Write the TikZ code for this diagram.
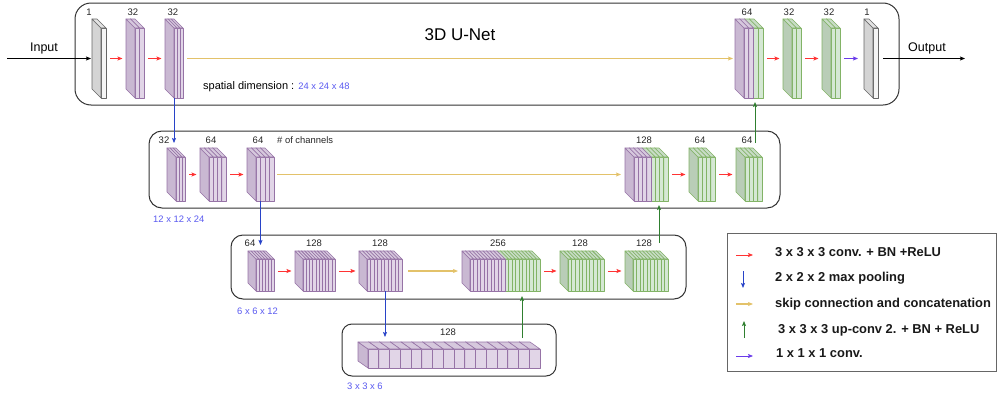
\documentclass[tikz,border=0pt]{standalone}
\usepackage{fontspec}
\setmainfont{Liberation Sans}
\usetikzlibrary{arrows.meta}
\definecolor{purF}{HTML}{E1D5E7}
\definecolor{purL}{HTML}{C9B8D2}
\definecolor{purT}{HTML}{D6C8DD}
\definecolor{purS}{HTML}{9673A6}
\definecolor{grnF}{HTML}{D5E8D4}
\definecolor{grnL}{HTML}{B9CDB7}
\definecolor{grnT}{HTML}{C8DCC6}
\definecolor{grnS}{HTML}{82B366}
\definecolor{gryF}{HTML}{F5F5F5}
\definecolor{gryL}{HTML}{D4D4D4}
\definecolor{gryT}{HTML}{E2E2E2}
\definecolor{gryS}{HTML}{666666}
\definecolor{convred}{HTML}{FF3333}
\definecolor{skipy}{HTML}{E3C26A}
\definecolor{poolb}{HTML}{2843C8}
\definecolor{upg}{HTML}{2F7F2F}
\definecolor{onev}{HTML}{6A3BEA}
\definecolor{dimc}{HTML}{5A5AF0}
\newcommand{\ublock}[9]{%
  \pgfmathtruncatemacro\ubN{#6+#8}%
  \pgfmathtruncatemacro\ubLast{\ubN-1}%
  \pgfmathsetmacro\ubT{(#3-#2-\dX)/\ubN}%
  \foreach \i in {\ubLast,...,0}{%
    \ifnum\i<#6\relax\def\cs{#7}\else\def\cs{#9}\fi
    \pgfmathsetmacro\xs{#2+\i*\ubT}%
    \pgfmathsetmacro\xa{\xs+\dX}%
    \pgfmathsetmacro\xb{\xs+\ubT}%
    \pgfmathsetmacro\xc{\xs+\ubT+\dX}%
    \pgfmathsetmacro\ya{#4+\dY}%
    \pgfmathsetmacro\yb{#5-\dY}%
    \filldraw[slab,fill=\cs F,draw=\cs S] (\xa,\ya) rectangle (\xc,#5);
    \filldraw[slab,fill=\cs L,draw=\cs S] (\xs,#4) -- (\xa,\ya) -- (\xa,#5) -- (\xs,\yb) -- cycle;
    \filldraw[slab,fill=\cs T,draw=\cs S] (\xs,#4) -- (\xb,#4) -- (\xc,\ya) -- (\xa,\ya) -- cycle;
  }%
  \pgfmathsetmacro\ubW{#3-#2}\pgfmathsetmacro\ubH{#5-#4}%
  \node[bbox,minimum width=\ubW pt,minimum height=\ubH pt] (#1) at ({(#2+#3)/2},{(#4+#5)/2}) {};
}
\begin{document}
\begin{tikzpicture}[x=1pt,y=-1pt,
  slab/.style={line width=0.6pt,line join=round},
  bbox/.style={draw=none,inner sep=0pt,outer sep=0pt,rectangle},
  frame/.style={draw=black!80,line width=1pt},
  legbox/.style={draw=black!60,line width=0.8pt},
  lbl/.style={font=\fontsize{9.5}{11}\selectfont,text=black!85,inner sep=0pt},
  dim/.style={font=\fontsize{9.4}{11}\selectfont,text=dimc,inner sep=0pt,anchor=west},
  legt/.style={font=\bfseries\fontsize{12.9}{15}\selectfont,text=black!90,inner sep=0pt,anchor=west},
  arr/.style={-{Stealth[length=5pt,width=4pt,inset=1pt]},line width=0.8pt},
  conv/.style={arr,draw=convred},
  skipc/.style={arr,draw=skipy,line width=1.1pt},
  pool/.style={arr,draw=poolb},
  upc/.style={arr,draw=upg},
  onec/.style={arr,draw=onev},
  inout/.style={arr,draw=black},
  gap/.style={shorten <=4pt,shorten >=3.5pt}]
\useasboundingbox (0,0) rectangle (997,399);
% frames
\draw[frame,rounded corners=16pt] (75,3) rectangle (899,105);
\draw[frame,rounded corners=13pt] (149,131) rectangle (780,208);
\draw[frame,rounded corners=12pt] (231,235) rectangle (686,299);
\draw[frame,rounded corners=10pt] (342,324) rectangle (556,376);
\draw[legbox] (727,233) rectangle (996,371);
% level 1
\def\dX{9}\def\dY{9}
\ublock{g1}{92}{106}{19}{98}{1}{gry}{0}{grn}
\ublock{p1}{126}{144}{19}{98}{2}{pur}{0}{grn}
\ublock{p2}{165}{183}{19}{98}{3}{pur}{0}{grn}
\ublock{c1}{735}{763}{19}{98}{2}{pur}{2}{grn}
\ublock{q1}{783}{801}{19}{98}{2}{grn}{0}{grn}
\ublock{q2}{822}{840}{19}{98}{2}{grn}{0}{grn}
\ublock{g2}{864}{878}{19}{98}{1}{gry}{0}{grn}
% level 2
\ublock{a1}{167}{185}{148}{201}{3}{pur}{0}{grn}
\ublock{a2}{200}{226}{148}{201}{4}{pur}{0}{grn}
\ublock{a3}{247}{274}{148}{201}{4}{pur}{0}{grn}
\ublock{c2}{625}{668}{148}{201}{4}{pur}{4}{grn}
\ublock{b1}{689}{715}{148}{201}{4}{grn}{0}{grn}
\ublock{b2}{736}{762}{148}{201}{4}{grn}{0}{grn}
% level 3
\def\dX{8}\def\dY{8}
\ublock{d1}{248}{274}{251}{291}{6}{pur}{0}{grn}
\ublock{d2}{295}{335}{251}{291}{10}{pur}{0}{grn}
\ublock{d3}{359}{402}{251}{291}{10}{pur}{0}{grn}
\ublock{c3}{462}{540}{251}{291}{10}{pur}{10}{grn}
\ublock{e1}{560}{604}{251}{291}{10}{grn}{0}{grn}
\ublock{e2}{625}{668}{251}{291}{10}{grn}{0}{grn}
% level 4
\def\dX{10}\def\dY{7}
\ublock{h1}{358}{540}{342}{368}{16}{pur}{0}{grn}
% title and texts
\node[font=\fontsize{17}{20}\selectfont,inner sep=0pt] (title) at (460,35) {3D U-Net};
\node[font=\fontsize{12.5}{15}\selectfont,inner sep=0pt] (inlbl) at (44,48) {Input};
\node[font=\fontsize{12.5}{15}\selectfont,inner sep=0pt] (outlbl) at (927,48) {Output};
\node[inner sep=0pt,anchor=west] (spat) at (203,87) {\fontsize{11}{13}\selectfont spatial dimension : {\fontsize{9.4}{11}\selectfont\color{dimc}24 x 24 x 48}};
\node[lbl,anchor=west,font=\fontsize{9.4}{11}\selectfont] (chan) at (277,140) {\# of channels};
\node[dim] (dim2) at (153,219) {12 x 12 x 24};
\node[dim] (dim3) at (237,311) {6 x 6 x 12};
\node[dim] (dim4) at (347,386) {3 x 3 x 6};
% channel labels
\node[lbl] (t1) at (89,12) {1};
\node[lbl] (t2) at (133,12) {32};
\node[lbl] (t3) at (173,12) {32};
\node[lbl] (t4) at (747,12) {64};
\node[lbl] (t5) at (789,12) {32};
\node[lbl] (t6) at (829,12) {32};
\node[lbl] (t7) at (867,12) {1};
\node[lbl] (s1) at (164,140) {32};
\node[lbl] (s2) at (211,140) {64};
\node[lbl] (s3) at (258,140) {64};
\node[lbl] (s4) at (644,140) {128};
\node[lbl] (s5) at (700,140) {64};
\node[lbl] (s6) at (747,140) {64};
\node[lbl] (r1) at (250,243) {64};
\node[lbl] (r2) at (314,243) {128};
\node[lbl] (r3) at (380,243) {128};
\node[lbl] (r4) at (498,243) {256};
\node[lbl] (r5) at (580,243) {128};
\node[lbl] (r6) at (644,243) {128};
\node[lbl] (w1) at (448,332) {128};
% input / output
\coordinate (inS) at (7,58.5);
\coordinate (outE) at (965,58.5);
\draw[inout,shorten >=1pt] (inS) -- (g1);
\draw[inout,shorten <=5pt] (g2) -- (outE);
% conv arrows
\draw[conv,gap] (g1) -- (p1);
\draw[conv,gap] (p1) -- (p2);
\draw[conv,gap] (c1) -- (q1);
\draw[conv,gap] (q1) -- (q2);
\draw[conv,gap] (a1) -- (a2);
\draw[conv,gap] (a2) -- (a3);
\draw[conv,gap] (c2) -- (b1);
\draw[conv,gap] (b1) -- (b2);
\draw[conv,gap] (d1) -- (d2);
\draw[conv,gap] (d2) -- (d3);
\draw[conv,gap] (c3) -- (e1);
\draw[conv,gap] (e1) -- (e2);
\draw[onec,shorten <=4pt,shorten >=6pt] (q2) -- (g2);
% skip connections
\draw[skipc,shorten <=4pt,shorten >=2pt] (p2) -- (c1);
\draw[skipc,shorten <=3pt,shorten >=4pt] (a3) -- (c2);
\draw[skipc,shorten <=6pt,shorten >=4pt] (d3) -- (c3);
% pooling
\draw[pool,shorten >=5pt] (p2.south) -- (p2.south |- a1.north);
\draw[pool,shorten >=6pt] (a3.south) -- (a3.south |- d1.north);
\coordinate (pd3) at ([xshift=4.5pt]d3.south);
\draw[pool,shorten >=5pt] (pd3) -- (pd3 |- h1.north);
% up-conv
\coordinate (uh1) at ([xshift=73pt,yshift=4pt]h1.north);
\draw[upc,shorten >=5pt] (uh1) -- (uh1 |- c3.south);
\coordinate (ue2) at ([xshift=12.5pt,yshift=8pt]e2.north);
\draw[upc,shorten >=4pt] (ue2) -- (ue2 |- c2.south);
\coordinate (ub2) at ([xshift=6pt,yshift=5pt]b2.north);
\draw[upc,shorten >=4pt] (ub2) -- (ub2 |- c1.south);
% legend
\coordinate (l1a) at (736,255); \coordinate (l1b) at (753,255);
\coordinate (l2a) at (743,271); \coordinate (l2b) at (743,288);
\coordinate (l3a) at (736,304); \coordinate (l3b) at (753,304);
\coordinate (l4a) at (744,338); \coordinate (l4b) at (744,321);
\coordinate (l5a) at (736,356); \coordinate (l5b) at (753,356);
\draw[conv] (l1a) -- (l1b);
\draw[pool] (l2a) -- (l2b);
\draw[skipc] (l3a) -- (l3b);
\draw[upc] (l4a) -- (l4b);
\draw[onec] (l5a) -- (l5b);
\node[legt] (lt1) at (775,252) {3 x 3 x 3 conv. + BN +ReLU};
\node[legt] (lt2) at (775,278) {2 x 2 x 2 max pooling};
\node[legt] (lt3) at (775,304) {skip connection and concatenation};
\node[legt] (lt4) at (778,330) {3 x 3 x 3 up-conv 2. + BN + ReLU};
\node[legt] (lt5) at (776,353) {1 x 1 x 1 conv.};
\end{tikzpicture}
\end{document}
